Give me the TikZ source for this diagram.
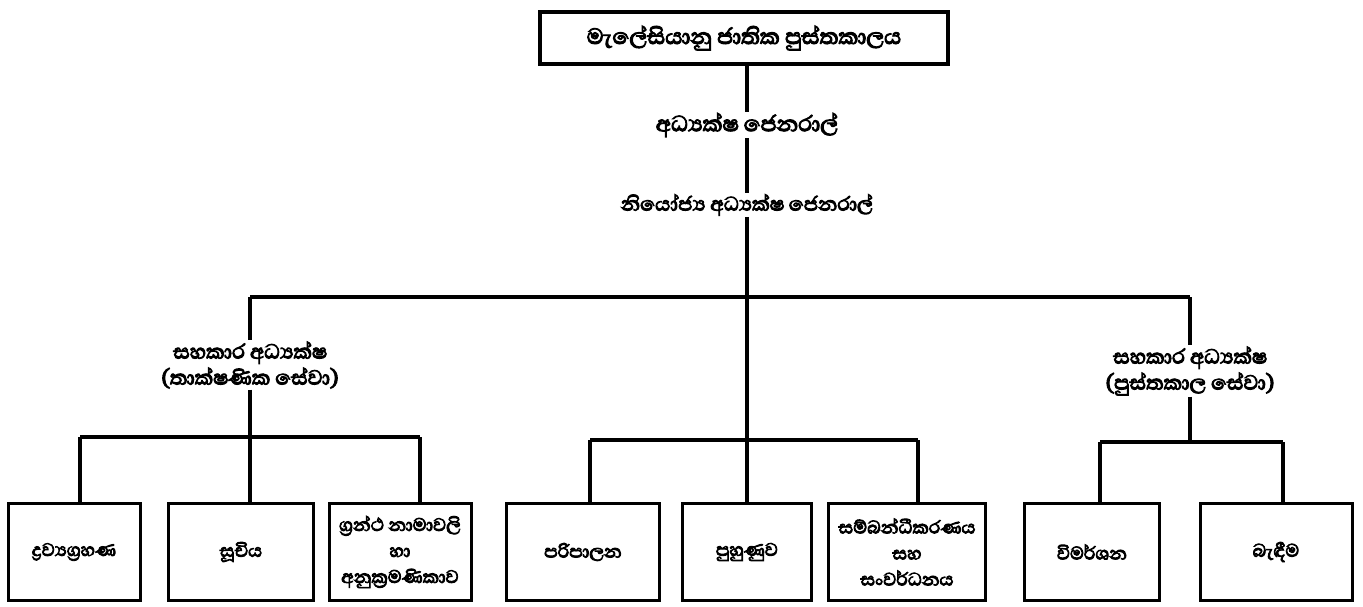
\documentclass[tikz,border=0pt]{standalone}
\usepackage{fontspec}
\newfontfamily\sinhfont[Script=Sinhala,FakeBold=4]{Abhaya Libre}
\begin{document}
\begin{tikzpicture}[x=1pt,y=-1pt,
  line/.style={line width=3.5pt},
  box/.style={draw,line width=3pt,rectangle,minimum height=97pt,align=center,font=\sinhfont\fontsize{23}{26}\selectfont,inner sep=1pt},
  lbl/.style={align=center,inner sep=1pt}]
\useasboundingbox (0,0) rectangle (1363,606);
\node[draw,line width=3.5pt,minimum width=408pt,minimum height=52pt,inner sep=0pt,font=\sinhfont\fontsize{28}{30}\selectfont] (top) at (744,38) {මැලේසියානු ජාතික පුස්තකාලය};
\node[lbl,font=\sinhfont\fontsize{28}{30}\selectfont] (dg) at (747,125) {අධ්‍යක්ෂ ජෙනරාල්};
\node[lbl,font=\sinhfont\fontsize{25}{28}\selectfont] (ddg) at (747,205) {නියෝජ්‍ය අධ්‍යක්ෂ ජෙනරාල්};
\node[lbl,font=\sinhfont\fontsize{26}{26}\selectfont] (ad1) at (250,365) {සහකාර අධ්‍යක්ෂ\\(තාක්ෂණික සේවා)};
\node[lbl,font=\sinhfont\fontsize{26}{26}\selectfont] (ad2) at (1190,371) {සහකාර අධ්‍යක්ෂ\\(පුස්තකාල සේවා)};
\node[box,minimum width=132pt] (b1) at (74,552) {ද්‍රව්‍යග්‍රහණ};
\node[box,minimum width=145pt] (b2) at (241,552) {සූචිය};
\node[box,minimum width=142pt] (b3) at (400,552) {ග්‍රන්ථ නාමාවලි\\හා\\අනුක්‍රමණිකාව};
\node[box,minimum width=153pt] (b4) at (583,552) {පරිපාලන};
\node[box,minimum width=129pt] (b5) at (747,552) {පුහුණුව};
\node[box,minimum width=157pt] (b6) at (907,552) {සම්බන්ධීකරණය\\සහ\\සංවර්ධනය};
\node[box,minimum width=135pt] (b7) at (1092,552) {විමර්ශන};
\node[box,minimum width=152pt] (b8) at (1276,552) {බැඳීම};
\coordinate (t0) at (747,64);
\coordinate (j0) at (747,297);
\coordinate (jl) at (250,297);
\coordinate (jr) at (1190,297);
\coordinate (jm) at (747,440);
\coordinate (l1) at (80,437);
\coordinate (l3) at (420,437);
\coordinate (lm) at (250,437);
\coordinate (m1) at (590,440);
\coordinate (m3) at (918,440);
\coordinate (r1) at (1100,442);
\coordinate (r2) at (1283,442);
\coordinate (rm) at (1190,442);
\draw[line] (t0) -- (dg);
\draw[line] (dg) -- (ddg);
\draw[line] (ddg) -- (j0) -- (jm);
\draw[line] (jl) -- (jr);
\draw[line] (jl) -- (ad1);
\draw[line] (jr) -- (ad2);
\draw[line] (ad1) -- (lm);
\draw[line] (l1) -- (l3);
\draw[line] (l1) -- (l1 |- b1.north);
\draw[line] (lm) -- (lm |- b2.north);
\draw[line] (l3) -- (l3 |- b3.north);
\draw[line] (m1) -- (m3);
\draw[line] (m1) -- (m1 |- b4.north);
\draw[line] (jm) -- (b5);
\draw[line] (m3) -- (m3 |- b6.north);
\draw[line] (ad2) -- (rm);
\draw[line] (r1) -- (r2);
\draw[line] (r1) -- (r1 |- b7.north);
\draw[line] (r2) -- (r2 |- b8.north);
\end{tikzpicture}
\end{document}
